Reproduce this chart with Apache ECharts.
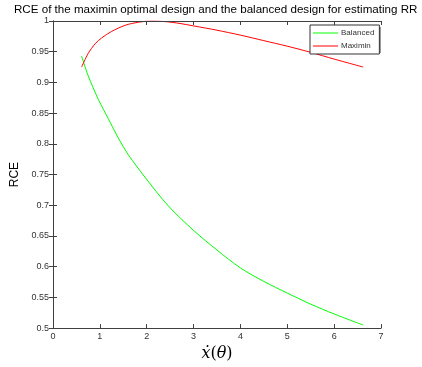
<!DOCTYPE html>
<html>
<head>
<meta charset="utf-8">
<script src="https://cdn.jsdelivr.net/npm/echarts@6/dist/echarts.min.js"></script>
<style>
  html, body { margin: 0; padding: 0; background: #fff; }
  #chart { width: 422px; height: 367px; }
</style>
</head>
<body>
<div id="chart"></div>
<script>
// values
const xTicks = [0, 1, 2, 3, 4, 5, 6, 7];
const yTicks = [0.5, 0.55, 0.6, 0.65, 0.7, 0.75, 0.8, 0.85, 0.9, 0.95, 1];

const xBalanced = [0.61, 0.75, 0.97, 1.18, 1.39, 1.61, 1.96, 2.46, 3.0, 3.5, 4.0, 4.5, 5.0, 5.5, 6.0, 6.62];
const yBalanced = [0.943, 0.911, 0.872, 0.841, 0.810, 0.782, 0.746, 0.699, 0.659, 0.627, 0.598, 0.576, 0.557, 0.539, 0.523, 0.505];

const xMaximin = [0.61, 0.75, 0.9, 1.04, 1.25, 1.54, 1.82, 2.1, 2.4, 2.71, 3.0, 3.5, 4.0, 4.5, 5.0, 5.5, 6.0, 6.62];
const yMaximin = [0.925, 0.947, 0.963, 0.9725, 0.983, 0.993, 0.998, 1.0, 0.999, 0.996, 0.992, 0.985, 0.977, 0.968, 0.959, 0.949, 0.938, 0.925];

const zip = (xs, ys) => xs.map((x, i) => [x, ys[i]]);

const axisColor = '#404040';
const labelColor = '#333';

const chart = echarts.init(document.getElementById('chart'));

const option = {
  animation: false,
  backgroundColor: '#fff',
  title: {
    text: 'RCE of the maximin optimal design and the balanced design for estimating RR',
    left: 14,
    top: 4,
    padding: 0,
    textStyle: { fontFamily: 'Liberation Sans', fontSize: 11.6, fontWeight: 'normal', color: '#000' }
  },
  grid: { left: 53, right: 41, top: 21, bottom: 37 },
  legend: {
    orient: 'vertical',
    left: 310,
    top: 25,
    itemWidth: 25,
    itemHeight: 1,
    itemGap: 5,
    icon: 'rect',
    padding: [4, 5, 4, 3],
    borderColor: '#333',
    borderWidth: 1,
    backgroundColor: '#fff',
    textStyle: { fontFamily: 'Liberation Sans', fontSize: 8, color: '#333', padding: [0, 0, 0, -2] },
    data: ['Balanced', 'Maximin']
  },
  graphic: [
    // grey drop edge under the legend box
    { type: 'rect', left: 312, top: 27, z: 3, shape: { width: 69, height: 26 }, style: { fill: '#999' } }
  ],
  xAxis: [
    {
      type: 'value', min: xTicks[0], max: xTicks[xTicks.length - 1], interval: 1,
      name: '{x|ẋ}{p|(}{x|θ}{p|)}',
      nameLocation: 'middle', nameGap: 16,
      nameTextStyle: {
        rich: {
          x: { fontFamily: 'DejaVu Serif', fontStyle: 'italic', fontSize: 16, color: '#000' },
          p: { fontFamily: 'DejaVu Serif', fontSize: 16, color: '#000' }
        }
      },
      axisLine: { lineStyle: { color: axisColor } },
      axisTick: { inside: true, length: 4, lineStyle: { color: axisColor } },
      axisLabel: { fontFamily: 'Liberation Sans', fontSize: 9, color: labelColor, margin: 4 },
      splitLine: { show: false }
    },
    {
      type: 'value', position: 'top', z: 5, min: xTicks[0], max: xTicks[xTicks.length - 1], interval: 1,
      axisLine: { show: true, lineStyle: { color: axisColor } },
      axisTick: { inside: true, length: 4, lineStyle: { color: axisColor } },
      axisLabel: { show: false },
      splitLine: { show: false }
    }
  ],
  yAxis: [
    {
      type: 'value', min: yTicks[0], max: yTicks[yTicks.length - 1], interval: 0.05,
      name: 'RCE', nameLocation: 'middle', nameGap: 24, nameRotate: 90,
      nameTextStyle: { fontFamily: 'Liberation Sans', fontSize: 12, color: '#000' },
      axisLine: { show: true, lineStyle: { color: axisColor } },
      axisTick: { show: true, inside: true, length: 4, lineStyle: { color: axisColor } },
      axisLabel: { fontFamily: 'Liberation Sans', fontSize: 9, color: labelColor, margin: 4,
        formatter: v => String(+v.toFixed(2)) },
      splitLine: { show: false }
    },
    {
      type: 'value', position: 'right', min: yTicks[0], max: yTicks[yTicks.length - 1], interval: 0.05,
      axisLine: { show: true, lineStyle: { color: axisColor } },
      axisTick: { show: true, inside: true, length: 4, lineStyle: { color: axisColor } },
      axisLabel: { show: false },
      splitLine: { show: false }
    }
  ],
  series: [
    {
      name: 'Balanced', type: 'line', smooth: 0.3, symbol: 'none',
      data: zip(xBalanced, yBalanced),
      lineStyle: { color: '#00ff00', width: 1 },
      itemStyle: { color: '#00ff00' }
    },
    {
      name: 'Maximin', type: 'line', smooth: 0.3, symbol: 'none',
      data: zip(xMaximin, yMaximin),
      lineStyle: { color: '#ff0000', width: 1 },
      itemStyle: { color: '#ff0000' }
    }
  ]
};

chart.setOption(option);
</script>
</body>
</html>
